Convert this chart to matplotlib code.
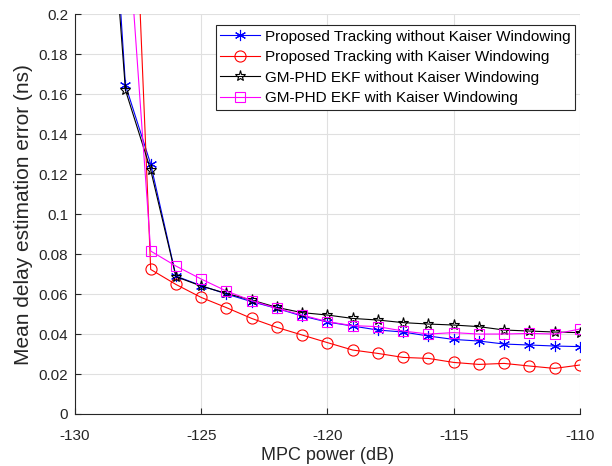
import numpy as np
import matplotlib
matplotlib.use("Agg")
import matplotlib.pyplot as plt
from matplotlib.ticker import FuncFormatter

plt.rcParams['font.family'] = ['Liberation Sans', 'DejaVu Sans']
plt.rcParams['axes.unicode_minus'] = False

# MPC power (dB) for each series
x_prop_nk = [-129, -128, -127, -126, -125, -124, -123, -122, -121, -120,
             -119, -118, -117, -116, -115, -114, -113, -112, -111, -110]
x_prop_k = [-128, -127, -126, -125, -124, -123, -122, -121, -120,
            -119, -118, -117, -116, -115, -114, -113, -112, -111, -110]

# mean delay estimation error (ns)
prop_no_kaiser = [0.36, 0.1645, 0.125, 0.069, 0.0642, 0.060, 0.0562, 0.0528, 0.049, 0.046,
                  0.044, 0.042, 0.041, 0.039, 0.0373, 0.0365, 0.035, 0.0345, 0.034, 0.0337]
prop_kaiser = [0.38, 0.0723, 0.0648, 0.0583, 0.0532, 0.0478, 0.0433, 0.0395, 0.0357,
               0.032, 0.0303, 0.0283, 0.0278, 0.0258, 0.0248, 0.0253, 0.024, 0.0228, 0.0245]
ekf_no_kaiser = [0.33, 0.162, 0.122, 0.0687, 0.064, 0.0603, 0.057, 0.0533, 0.0507, 0.0495,
                 0.0478, 0.047, 0.0457, 0.045, 0.0445, 0.0437, 0.042, 0.0415, 0.041, 0.0407]
ekf_kaiser = [0.26, 0.0815, 0.074, 0.0675, 0.0615, 0.0567, 0.0528, 0.0495, 0.0462,
              0.0442, 0.0437, 0.0415, 0.040, 0.0407, 0.040, 0.040, 0.0403, 0.040, 0.0425]

labels = ["Proposed Tracking without Kaiser Windowing",
          "Proposed Tracking with Kaiser Windowing",
          "GM-PHD EKF without Kaiser Windowing",
          "GM-PHD EKF with Kaiser Windowing"]

fig = plt.figure(figsize=(6.12, 4.66), dpi=100)
ax = fig.add_axes([0.1225, 0.1116, 0.825, 0.858])

ax.plot(x_prop_nk, prop_no_kaiser, color='blue', lw=0.8, marker=(6, 2, 0), ms=8, mew=0.8,
        label=labels[0])
ax.plot(x_prop_k, prop_kaiser, color='red', lw=0.8, marker='o', ms=8, mfc='none', mew=0.8,
        label=labels[1])
ax.plot(x_prop_nk, ekf_no_kaiser, color='black', lw=0.8, marker='*', ms=8, mfc='none', mew=0.8,
        label=labels[2])
ax.plot(x_prop_k, ekf_kaiser, color='magenta', lw=0.8, marker='s', ms=6.5, mfc='none', mew=0.8,
        label=labels[3])

ax.set_xlim(-130, -110)
ax.set_ylim(0, 0.2)
ax.set_xticks([-130, -125, -120, -115, -110])
ax.set_yticks(np.arange(0, 0.201, 0.02))
ax.yaxis.set_major_formatter(FuncFormatter(lambda v, p: "%g" % round(v, 2)))

# matlab look: grid, no box
ax.grid(True, color='#e0e0e0', lw=0.8)
ax.set_axisbelow(True)
ax.spines['top'].set_visible(False)
ax.spines['right'].set_visible(False)
for s in ['left', 'bottom']:
    ax.spines[s].set_color('#262626')
    ax.spines[s].set_linewidth(0.8)
ax.tick_params(direction='in', length=4, width=0.8,
               colors='#262626', labelsize=11, labelcolor='#262626')
ax.tick_params(axis='x', pad=11)
ax.tick_params(axis='y', pad=5)

ax.set_xlabel("MPC power (dB)", fontsize=13, color='#262626', labelpad=3)
ax.set_ylabel("Mean delay estimation error (ns)", fontsize=15, color='#262626', labelpad=4)

leg = ax.legend(loc='upper right', bbox_to_anchor=(0.99, 0.9725), fontsize=11,
                fancybox=False, framealpha=1, edgecolor='#262626',
                handlelength=2.6, labelspacing=0.42, borderpad=0.3, handletextpad=0.3,
                borderaxespad=0)
leg.get_frame().set_linewidth(0.8)

plt.savefig("out.png", dpi=100)
plt.close()
